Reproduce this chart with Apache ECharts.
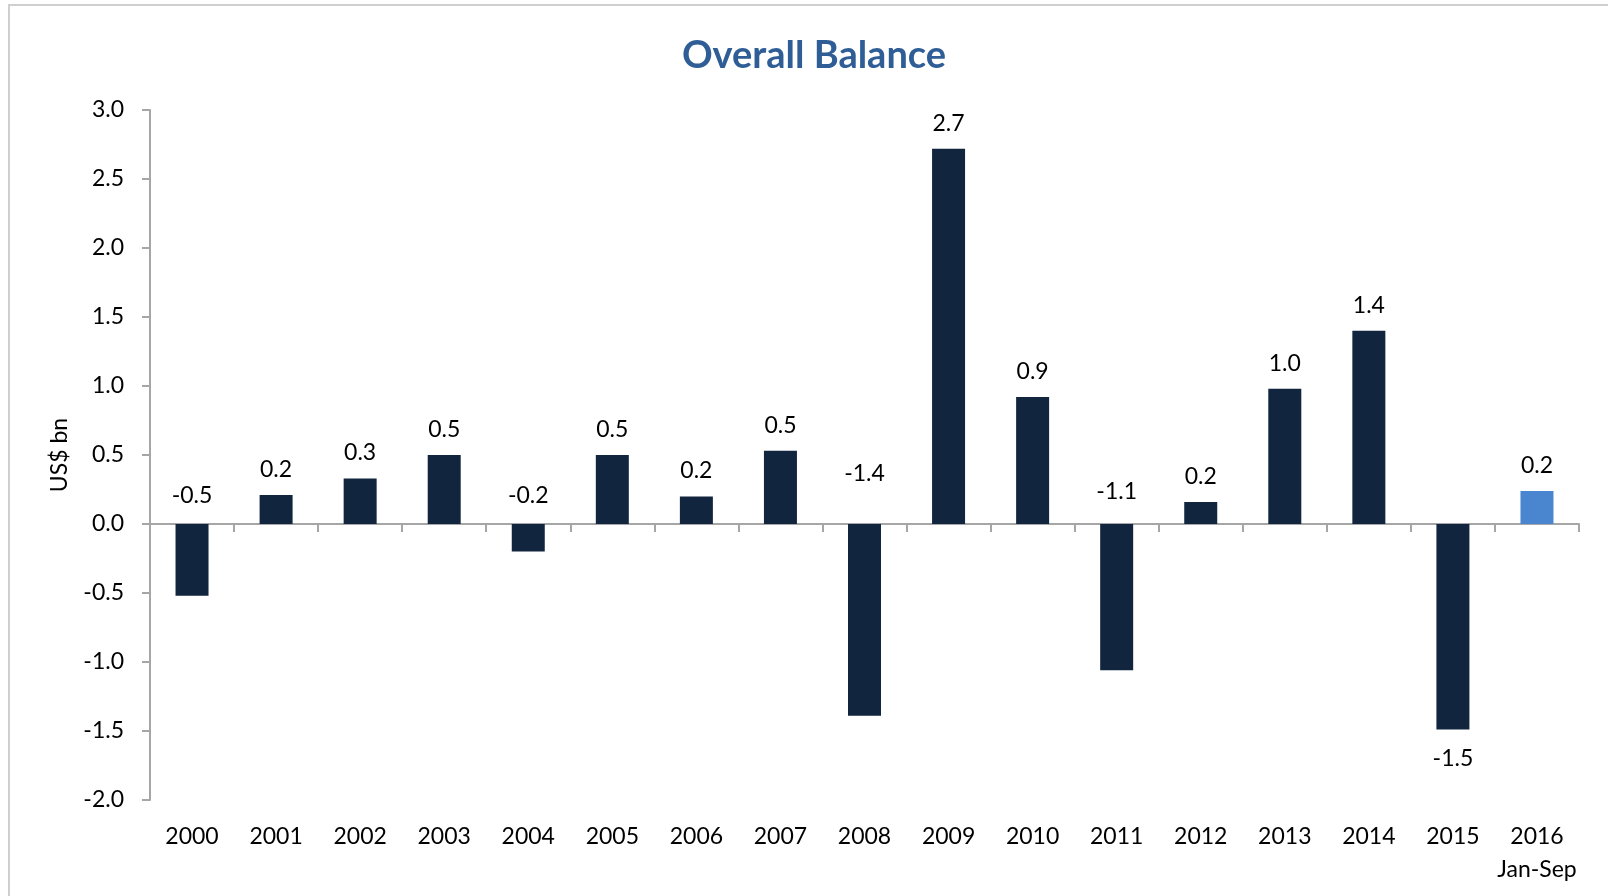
<!DOCTYPE html>
<html>
<head>
<meta charset="utf-8">
<title>Overall Balance</title>
<script src="https://cdn.jsdelivr.net/npm/echarts@6/dist/echarts.min.js"></script>
<style>
    html, body { margin: 0; padding: 0; background: #fff; }
    #main { width: 1608px; height: 896px; }
</style>
</head>
<body>
<div id="main"></div>
<script>
// 数据
var years = ['2000', '2001', '2002', '2003', '2004', '2005', '2006', '2007', '2008',
    '2009', '2010', '2011', '2012', '2013', '2014', '2015', '2016\nJan-Sep'];
var balance = [-0.52, 0.21, 0.33, 0.5, -0.2, 0.5, 0.2, 0.53, -1.39,
    2.72, 0.92, -1.06, 0.16, 0.98, 1.4, -1.49, 0.24];
var yTicks = [-2.0, -1.5, -1.0, -0.5, 0.0, 0.5, 1.0, 1.5, 2.0, 2.5, 3.0];

var font = 'Lato';

function drawChart() {
    var myChart = echarts.init(document.getElementById('main'));

    var barData = balance.map(function (v, i) {
        var item = { value: v };
        if (i == balance.length - 1) {
            item.itemStyle = { color: '#4a86d0' };
        }
        if (v < 0) {
            // excel style: negative labels sit above the zero line
            var dist = 17;
            if (years[i] == '2008') dist = 39;
            if (years[i] == '2011') dist = 21;
            item.label = { position: 'top', distance: dist };
            if (years[i] == '2015') {
                item.label = { position: 'bottom', distance: 17 };
            }
        }
        return item;
    });

    var option = {
        backgroundColor: '#fff',
        animation: false,
        title: {
            text: 'Overall Balance',
            left: 809,
            top: 32,
            textAlign: 'center',
            textStyle: {
                color: '#2f5e96',
                fontFamily: font,
                fontWeight: 'bold',
                fontSize: 38
            }
        },
        graphic: [{
            type: 'rect',
            shape: { x: 9, y: 5, width: 1700, height: 1000 },
            style: { fill: 'none', stroke: '#cfcfcf', lineWidth: 2 },
            silent: true
        }],
        grid: {
            left: 150,
            right: 29,
            top: 110,
            bottom: 96
        },
        xAxis: [{
            type: 'category',
            data: years,
            position: 'bottom',
            axisLine: { show: false, onZero: false },
            axisTick: { show: false },
            axisLabel: {
                color: '#000',
                fontFamily: font,
                fontSize: 23,
                lineHeight: 33,
                margin: 20,
                interval: 0
            }
        }, {
            type: 'category',
            data: years,
            position: 'bottom',
            axisLine: {
                show: true,
                onZero: true,
                lineStyle: { color: '#a6a6a6', width: 2 }
            },
            axisTick: {
                show: true,
                length: 8,
                lineStyle: { color: '#a6a6a6', width: 2 }
            },
            axisLabel: { show: false }
        }],
        yAxis: {
            type: 'value',
            min: yTicks[0],
            max: yTicks[yTicks.length - 1],
            interval: 0.5,
            name: 'US$ bn',
            nameLocation: 'middle',
            nameGap: 79,
            nameTextStyle: {
                color: '#000',
                fontFamily: font,
                fontSize: 23
            },
            axisLine: {
                show: true,
                lineStyle: { color: '#a6a6a6', width: 2 }
            },
            axisTick: {
                show: true,
                length: 8,
                lineStyle: { color: '#a6a6a6', width: 2 }
            },
            splitLine: { show: false },
            axisLabel: {
                color: '#000',
                fontFamily: font,
                fontSize: 23,
                margin: 26,
                formatter: function (value) {
                    return value.toFixed(1);
                }
            }
        },
        series: [{
            type: 'bar',
            xAxisIndex: 0,
            data: barData,
            barWidth: 33,
            itemStyle: { color: '#12253f' },
            label: {
                show: true,
                position: 'top',
                distance: 14,
                color: '#000',
                fontFamily: font,
                fontSize: 23,
                formatter: function (p) {
                    return p.value.toFixed(1);
                }
            },
            z: 3
        }]
    };
    myChart.setOption(option);

    window.onresize = function () {
        myChart.resize();
    };
}

drawChart();
</script>
</body>
</html>
